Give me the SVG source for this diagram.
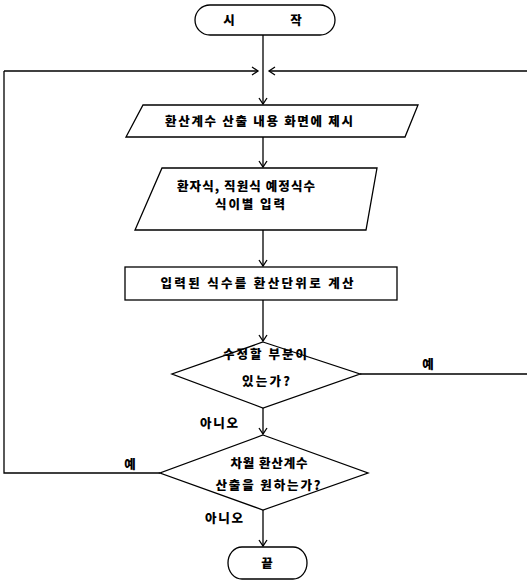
<svg xmlns="http://www.w3.org/2000/svg" width="527" height="581" viewBox="0 0 527 581">
<defs>
<marker id="arr" markerWidth="10" markerHeight="10" refX="8" refY="5" orient="auto" markerUnits="userSpaceOnUse">
<path d="M2,1 L8,5 L2,9" fill="none" stroke="#000" stroke-width="1.3"/>
</marker>
</defs>
<style>
.sh{fill:#fff;stroke:#000;stroke-width:1.3}
.ln{fill:none;stroke:#000;stroke-width:1.3}
.t{font-family:"Noto Sans CJK KR","Noto Sans",sans-serif;font-size:12.5px;font-weight:900;fill:#000;text-anchor:middle}
</style>
<rect width="527" height="581" fill="#fff"/>
<g id="connectors">
<path class="ln" d="M263,35 V104" marker-end="url(#arr)"/>
<path class="ln" d="M4,71 H258" marker-end="url(#arr)"/>
<path class="ln" d="M529,71 H269" marker-end="url(#arr)"/>
<path class="ln" d="M263,137 V167" marker-end="url(#arr)"/>
<path class="ln" d="M263,230 V266" marker-end="url(#arr)"/>
<path class="ln" d="M263,300 V341" marker-end="url(#arr)"/>
<path class="ln" d="M263,408 V434" marker-end="url(#arr)"/>
<path class="ln" d="M263,510 V546" marker-end="url(#arr)"/>
<path class="ln" d="M360,374 H529 V71"/>
<path class="ln" d="M160,473 H4 V71"/>
<text class="t" x="428" y="369">예</text>
<text class="t" x="130" y="469">예</text>
<text class="t" x="219" y="428" textLength="38" lengthAdjust="spacing">아니오</text>
<text class="t" x="224" y="523" textLength="38" lengthAdjust="spacing">아니오</text>
</g>
<g id="start">
<path class="sh" d="M210,5 H320 A15,15 0 0 1 320,35 H210 A15,15 0 0 1 210,5 Z"/>
<text class="t" x="229" y="25">시</text>
<text class="t" x="296" y="25">작</text>
</g>
<g id="display">
<polygon class="sh" points="143,105 418,105 405,137 126,137"/>
<text class="t" x="259" y="126" textLength="188" lengthAdjust="spacing">환산계수 산출 내용 화면에 제시</text>
</g>
<g id="input">
<polygon class="sh" points="162,168 377,168 366,230 135,230"/>
<text class="t" x="246" y="191" textLength="138" lengthAdjust="spacing">환자식, 직원식 예정식수</text>
<text class="t" x="250" y="209" textLength="70" lengthAdjust="spacing">식이별 입력</text>
</g>
<g id="calc">
<rect class="sh" x="125" y="267" width="272" height="33"/>
<text class="t" x="257" y="288" textLength="193" lengthAdjust="spacing">입력된 식수를 환산단위로 계산</text>
</g>
<g id="modify">
<polygon class="sh" points="263,342 360,374 263,408 172,374"/>
<text class="t" x="265" y="359" textLength="84" lengthAdjust="spacing">수정할 부분이</text>
<text class="t" x="266" y="386" textLength="48" lengthAdjust="spacing">있는가?</text>
</g>
<g id="next">
<polygon class="sh" points="263,435 368,473 263,510 160,473"/>
<text class="t" x="269" y="468" textLength="77" lengthAdjust="spacing">차월 환산계수</text>
<text class="t" x="268" y="490" textLength="105" lengthAdjust="spacing">산출을 원하는가?</text>
</g>
<g id="end">
<path class="sh" d="M242,547 H293 A14,16 0 0 1 293,579 H242 A14,16 0 0 1 242,547 Z"/>
<text class="t" x="267" y="568">끝</text>
</g>
</svg>
